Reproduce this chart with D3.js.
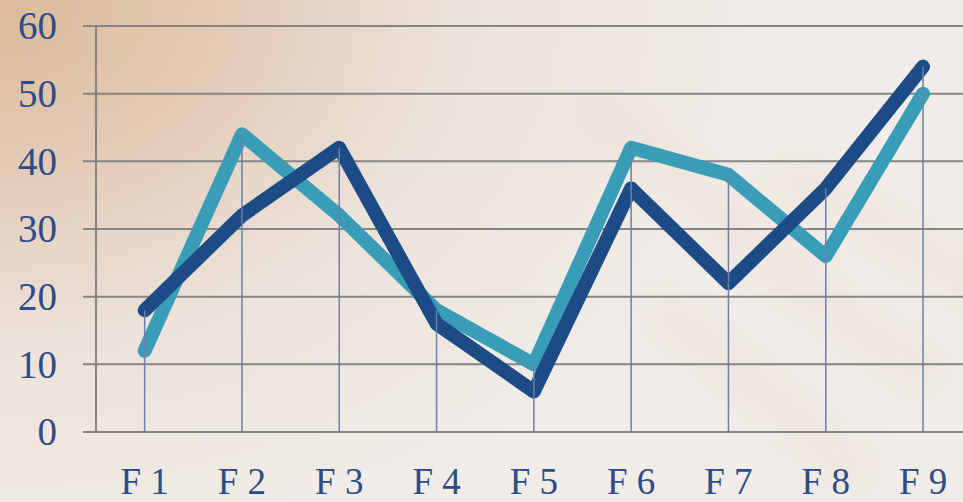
<!DOCTYPE html>
<html>
<head>
<meta charset="utf-8">
<script src="https://cdn.jsdelivr.net/npm/d3@7"></script>
<style>
  html, body { margin: 0; padding: 0; overflow: hidden; }
  #chart { width: 963px; height: 502px; }
  .tick-label { font-family: "Liberation Serif", "DejaVu Serif", serif; fill: #2d4c86; }
</style>
</head>
<body>
<div id="chart"></div>
<script>
// chart data
const categories = ['F 1', 'F 2', 'F 3', 'F 4', 'F 5', 'F 6', 'F 7', 'F 8', 'F 9'];
const seriesDark = [18, 32, 42, 16, 6, 36, 22, 36, 54];
const seriesLight = [12, 44, 32, 18, 10, 42, 38, 26, 50];
const yTicks = [0, 10, 20, 30, 40, 50, 60];

const width = 963;
const height = 502;

const svg = d3.select('#chart')
  .append('svg')
  .attr('width', width)
  .attr('height', height);

const defs = svg.append('defs');

// background: warm peach in the top-left fading to off-white
const bg = defs.append('radialGradient')
  .attr('id', 'bg')
  .attr('gradientUnits', 'userSpaceOnUse')
  .attr('cx', 0).attr('cy', 0).attr('r', 760)
  .attr('gradientTransform', 'matrix(1,0,0,0.75,0,0)');
bg.append('stop').attr('offset', '0%').attr('stop-color', '#dcba9c');
bg.append('stop').attr('offset', '30%').attr('stop-color', '#e3cbb7');
bg.append('stop').attr('offset', '60%').attr('stop-color', '#ece2d9');
bg.append('stop').attr('offset', '100%').attr('stop-color', '#f1ece8');

const blur = defs.append('filter').attr('id', 'soft')
  .attr('x', '-50%').attr('y', '-50%').attr('width', '200%').attr('height', '200%');
blur.append('feGaussianBlur').attr('stdDeviation', 18);

svg.append('rect')
  .attr('width', width)
  .attr('height', height)
  .attr('fill', 'url(#bg)');

// faint feather-like streaks on the right
const streaks = svg.append('g').attr('filter', 'url(#soft)').attr('opacity', 0.16);
[[820, 300, 35], [760, 390, 40], [900, 240, 30], [700, 190, 38]].forEach(([cx, cy, a]) => {
  streaks.append('rect')
    .attr('x', cx - 140).attr('y', cy - 18)
    .attr('width', 280).attr('height', 36)
    .attr('fill', '#e2c2a6')
    .attr('transform', `rotate(${a},${cx},${cy})`);
});

const margin = { left: 96, top: 26, bottom: 70 };

const x = d3.scalePoint()
  .domain(categories)
  .range([margin.left, margin.left + 97.3 * categories.length])
  .padding(0.5);

const y = d3.scaleLinear()
  .domain([0, 60])
  .range([height - margin.bottom, margin.top]);

// horizontal gridlines
svg.append('g')
  .selectAll('line')
  .data(yTicks)
  .enter().append('line')
  .attr('x1', 83)
  .attr('x2', width)
  .attr('y1', d => y(d))
  .attr('y2', d => y(d))
  .attr('stroke', '#858585')
  .attr('stroke-width', 2);

// vertical axis line
svg.append('line')
  .attr('x1', margin.left)
  .attr('x2', margin.left)
  .attr('y1', y(60))
  .attr('y2', y(0))
  .attr('stroke', '#858585')
  .attr('stroke-width', 2);

// y tick labels
svg.append('g')
  .selectAll('text')
  .data(yTicks)
  .enter().append('text')
  .attr('class', 'tick-label')
  .attr('x', 57)
  .attr('y', d => y(d))
  .attr('dy', '0.34em')
  .attr('text-anchor', 'end')
  .attr('font-size', 39)
  .text(d => d);

// x tick labels
svg.append('g')
  .selectAll('text')
  .data(categories)
  .enter().append('text')
  .attr('class', 'tick-label')
  .attr('x', d => x(d))
  .attr('y', 494)
  .attr('text-anchor', 'middle')
  .attr('font-size', 37)
  .attr('xml:space', 'preserve')
  .text(d => d);

const line = d3.line()
  .x((d, i) => x(categories[i]))
  .y(d => y(d));

function drawSeries(values, color) {
  svg.append('path')
    .datum(values)
    .attr('d', line)
    .attr('fill', 'none')
    .attr('stroke', color)
    .attr('stroke-width', 14)
    .attr('stroke-linejoin', 'round')
    .attr('stroke-linecap', 'round');
}

drawSeries(seriesLight, '#3a9db8');
drawSeries(seriesDark, '#1c4b86');

// drop lines from the higher value of each category down to the axis
svg.append('g')
  .selectAll('line')
  .data(categories)
  .enter().append('line')
  .attr('x1', d => x(d))
  .attr('x2', d => x(d))
  .attr('y1', (d, i) => y(Math.max(seriesDark[i], seriesLight[i])))
  .attr('y2', y(0))
  .attr('stroke', '#6a80aa')
  .attr('stroke-width', 1.5);
</script>
</body>
</html>
